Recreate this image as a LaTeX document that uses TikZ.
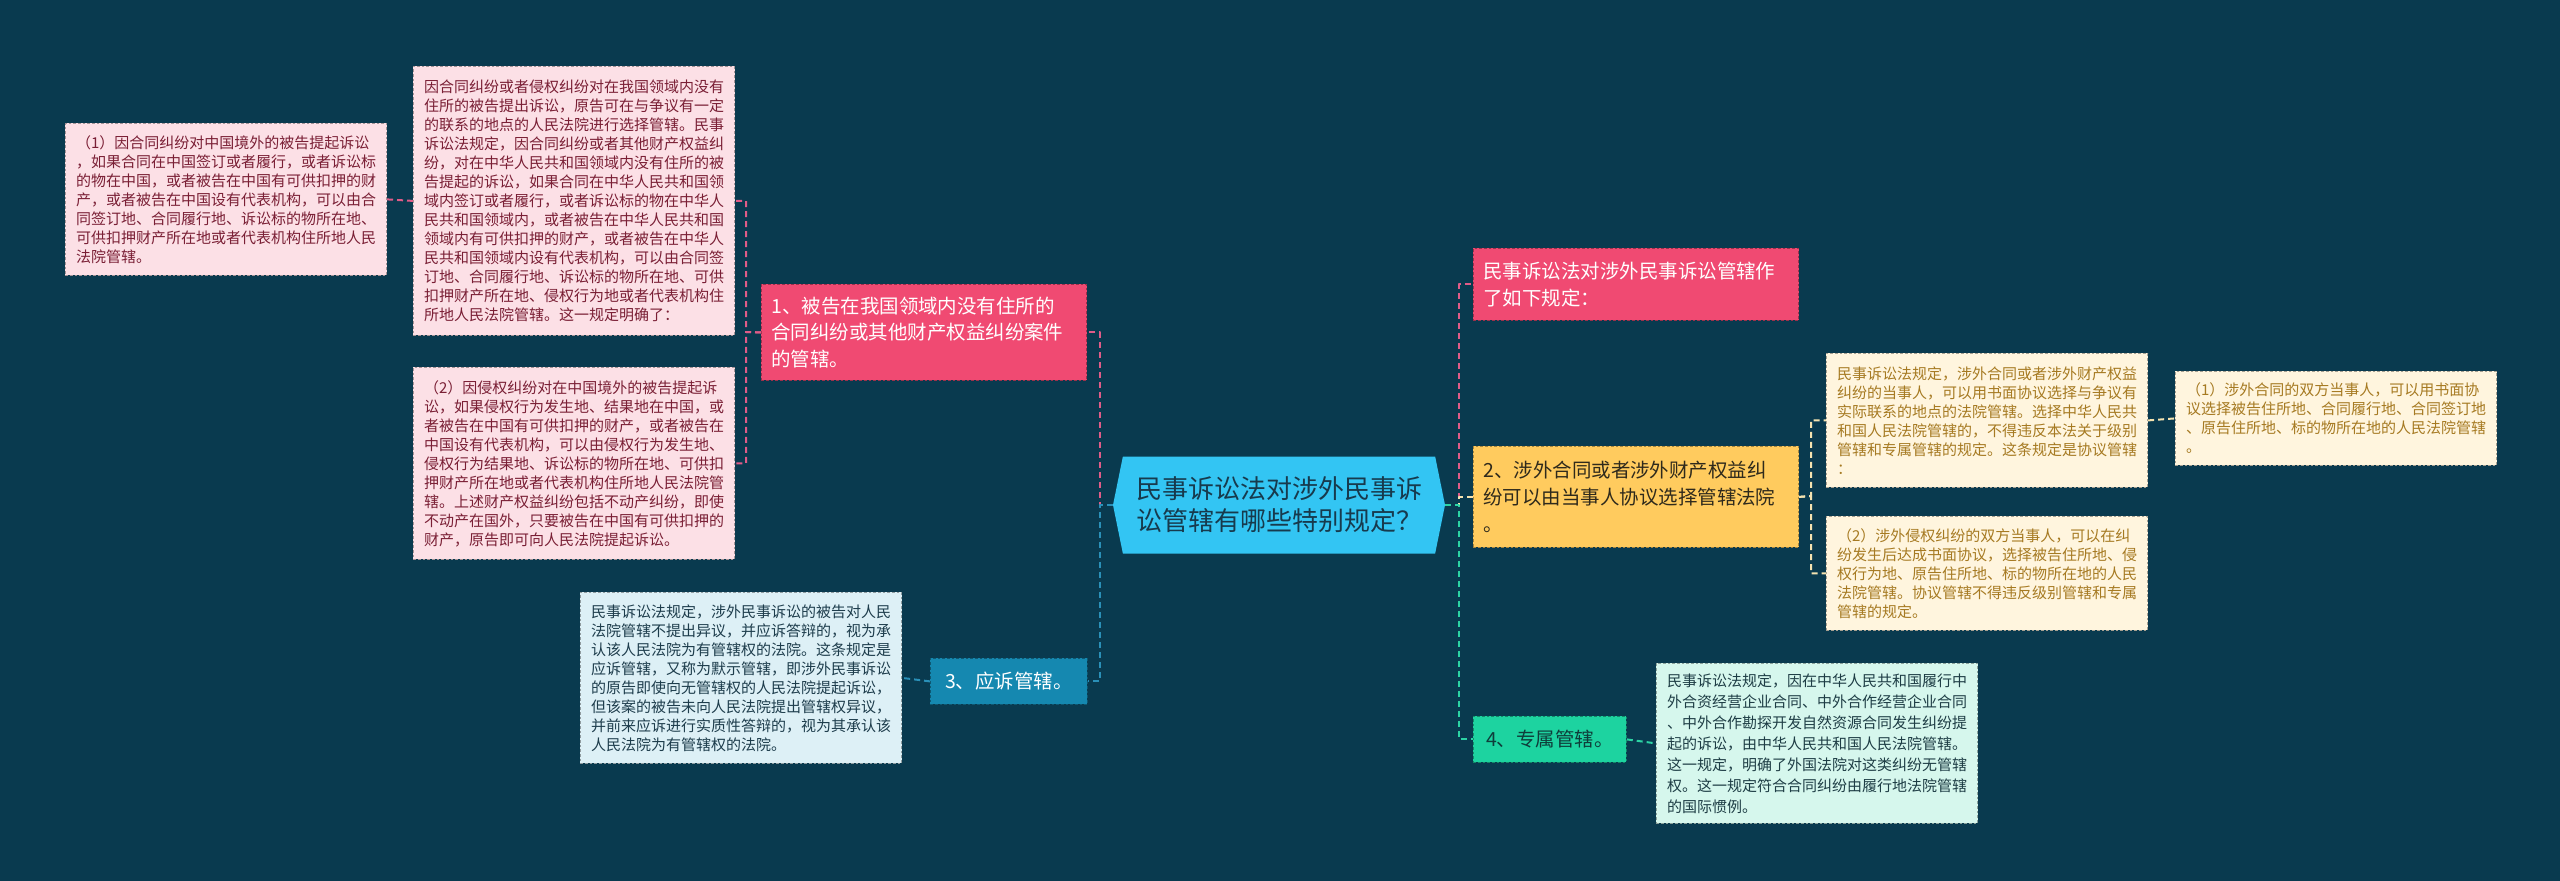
\documentclass[tikz,border=0pt]{standalone}
\usepackage{fontspec}
\setmainfont{Noto Sans CJK SC}
\usetikzlibrary{positioning,calc,shapes.symbols}

\definecolor{bgcol}{HTML}{093A4F}
\definecolor{rootcol}{HTML}{33C5F3}
\definecolor{roottxt}{HTML}{173A4D}
\definecolor{pinktop}{HTML}{F04A72}
\definecolor{pinkleaf}{HTML}{FCE0E6}
\definecolor{pinktxt}{HTML}{7A1F35}
\definecolor{pinkline}{HTML}{E05C88}
\definecolor{yeltop}{HTML}{FFCB5E}
\definecolor{yeltoptxt}{HTML}{2F2A1C}
\definecolor{yelleaf}{HTML}{FFF5DE}
\definecolor{yeltxt}{HTML}{A67A22}
\definecolor{yelline}{HTML}{F5E3B0}
\definecolor{bluetop}{HTML}{1588B0}
\definecolor{blueleaf}{HTML}{DDF0F6}
\definecolor{bluetxt}{HTML}{1E3D4C}
\definecolor{blueline}{HTML}{2A90B8}
\definecolor{greentop}{HTML}{1DD3A0}
\definecolor{greentoptxt}{HTML}{0F3D3A}
\definecolor{greenleaf}{HTML}{D6F7ED}
\definecolor{greentxt}{HTML}{1E3D45}
\definecolor{greenline}{HTML}{2CD3A4}

\tikzset{
  root/.style={signal, signal to=west and east, signal pointer angle=157,
    fill=rootcol, text=roottxt, minimum width=249pt, minimum height=72.75pt,
    font=\fontsize{19.5}{24}\selectfont, align=left, inner sep=2pt},
  box/.style 2 args={rectangle, draw=#1!65!black, line width=0.6pt,
    dash pattern=on 2pt off 1.5pt, fill=#1, text=#2, anchor=north west, inner ysep=3pt},
  topic/.style 2 args={box={#1}{#2}, font=\fontsize{14.6}{20}\selectfont,
    align=left, text width=229pt, inner xsep=7.5pt},
  chip/.style 2 args={box={#1}{#2}, font=\fontsize{14.6}{20}\selectfont,
    minimum height=34.5pt},
  leaf/.style 2 args={box={#1}{#2}, font=\fontsize{11.25}{14.25}\selectfont,
    align=left, text width=225pt, inner xsep=8pt},
  link/.style={draw=#1, line width=1.5pt, dash pattern=on 4.5pt off 3pt},
}

\begin{document}
\begin{tikzpicture}[x=0.75pt, y=-0.75pt, line join=round]
\fill[bgcol] (0,0) rectangle (2560,881);
\useasboundingbox (0,0) rectangle (2560,881);

% centre
\node[root] (C) at (1279,505) {民事诉讼法对涉外民事诉\\讼管辖有哪些特别规定？};

% left side
\node[topic={pinktop}{white}, minimum height=72pt] (N1) at (761,284)
  {1、被告在我国领域内没有住所的\\合同纠纷或其他财产权益纠纷案件\\的管辖。};
\node[leaf={pinkleaf}{pinktxt}, minimum height=201.75pt] (L1) at (413,66)
  {因合同纠纷或者侵权纠纷对在我国领域内没有\\住所的被告提出诉讼，原告可在与争议有一定\\的联系的地点的人民法院进行选择管辖。民事\\诉讼法规定，因合同纠纷或者其他财产权益纠\\纷，对在中华人民共和国领域内没有住所的被\\告提起的诉讼，如果合同在中华人民共和国领\\域内签订或者履行，或者诉讼标的物在中华人\\民共和国领域内，或者被告在中华人民共和国\\领域内有可供扣押的财产，或者被告在中华人\\民共和国领域内设有代表机构，可以由合同签\\订地、合同履行地、诉讼标的物所在地、可供\\扣押财产所在地、侵权行为地或者代表机构住\\所地人民法院管辖。这一规定明确了：};
\node[leaf={pinkleaf}{pinktxt}, minimum height=114pt] (L1a) at (65,123)
  {（1）因合同纠纷对中国境外的被告提起诉讼\\，如果合同在中国签订或者履行，或者诉讼标\\的物在中国，或者被告在中国有可供扣押的财\\产，或者被告在中国设有代表机构，可以由合\\同签订地、合同履行地、诉讼标的物所在地、\\可供扣押财产所在地或者代表机构住所地人民\\法院管辖。};
\node[leaf={pinkleaf}{pinktxt}, minimum height=144pt] (L1b) at (413,367)
  {（2）因侵权纠纷对在中国境外的被告提起诉\\讼，如果侵权行为发生地、结果地在中国，或\\者被告在中国有可供扣押的财产，或者被告在\\中国设有代表机构，可以由侵权行为发生地、\\侵权行为结果地、诉讼标的物所在地、可供扣\\押财产所在地或者代表机构住所地人民法院管\\辖。上述财产权益纠纷包括不动产纠纷，即使\\不动产在国外，只要被告在中国有可供扣押的\\财产，原告即可向人民法院提起诉讼。};
\node[chip={bluetop}{white}, minimum width=117.75pt] (N3) at (930,658) {3、应诉管辖。};
\node[leaf={blueleaf}{bluetxt}, minimum height=128.25pt] (L3) at (580,592)
  {民事诉讼法规定，涉外民事诉讼的被告对人民\\法院管辖不提出异议，并应诉答辩的，视为承\\认该人民法院为有管辖权的法院。这条规定是\\应诉管辖，又称为默示管辖，即涉外民事诉讼\\的原告即使向无管辖权的人民法院提起诉讼，\\但该案的被告未向人民法院提出管辖权异议，\\并前来应诉进行实质性答辩的，视为其承认该\\人民法院为有管辖权的法院。};

% right side
\node[topic={pinktop}{white}, minimum height=54pt] (NA) at (1473,248)
  {民事诉讼法对涉外民事诉讼管辖作\\了如下规定：};
\node[topic={yeltop}{yeltoptxt}, minimum height=75.75pt] (N2) at (1473,446)
  {2、涉外合同或者涉外财产权益纠\\纷可以由当事人协议选择管辖法院\\。};
\node[leaf={yelleaf}{yeltxt}, minimum height=100.5pt] (R2a) at (1826,353)
  {民事诉讼法规定，涉外合同或者涉外财产权益\\纠纷的当事人，可以用书面协议选择与争议有\\实际联系的地点的法院管辖。选择中华人民共\\和国人民法院管辖的，不得违反本法关于级别\\管辖和专属管辖的规定。这条规定是协议管辖\\：};
\node[leaf={yelleaf}{yeltxt}, minimum height=70.5pt] (R2a1) at (2175,371)
  {（1）涉外合同的双方当事人，可以用书面协\\议选择被告住所地、合同履行地、合同签订地\\、原告住所地、标的物所在地的人民法院管辖\\。};
\node[leaf={yelleaf}{yeltxt}, minimum height=85.5pt] (R2b) at (1826,516)
  {（2）涉外侵权纠纷的双方当事人，可以在纠\\纷发生后达成书面协议，选择被告住所地、侵\\权行为地、原告住所地、标的物所在地的人民\\法院管辖。协议管辖不得违反级别管辖和专属\\管辖的规定。};
\node[chip={greentop}{greentoptxt}, minimum width=114.75pt] (N4) at (1473,716) {4、专属管辖。};
\node[leaf={greenleaf}{greentxt}, minimum height=120pt, font=\fontsize{11.25}{15.75}\selectfont] (R4) at (1656,663)
  {民事诉讼法规定，因在中华人民共和国履行中\\外合资经营企业合同、中外合作经营企业合同\\、中外合作勘探开发自然资源合同发生纠纷提\\起的诉讼，由中华人民共和国人民法院管辖。\\这一规定，明确了外国法院对这类纠纷无管辖\\权。这一规定符合合同纠纷由履行地法院管辖\\的国际惯例。};

% joints
\coordinate (jL) at (1100,505);
\coordinate (jR) at (1459,505);
\coordinate (j1) at (746,332);
\coordinate (j2) at (1811,496);

% connectors
\draw[link=pinkline] (C.west) -- (jL) |- (N1.east);
\draw[link=blueline] (C.west) -- (jL) |- (N3.east);
\draw[link=pinkline] (N1.west) -- (j1) |- (L1.east);
\draw[link=pinkline] (N1.west) -- (j1) |- (L1b.east);
\draw[link=pinkline] (L1.west) -- (L1a.east);
\draw[link=blueline] (N3.west) -- (L3.east);
\draw[link=pinkline] (C.east) -- (jR) |- (NA.west);
\draw[link=yelline] (C.east) -- (jR) |- (N2.west);
\draw[link=greenline] (C.east) -- (jR) |- (N4.west);
\draw[link=yelline] (N2.east) -- (j2) |- (R2a.west);
\draw[link=yelline] (N2.east) -- (j2) |- (R2b.west);
\draw[link=yelline] (R2a.east) -- (R2a1.west);
\draw[link=greenline] (N4.east) -- (R4.west);
\end{tikzpicture}
\end{document}
